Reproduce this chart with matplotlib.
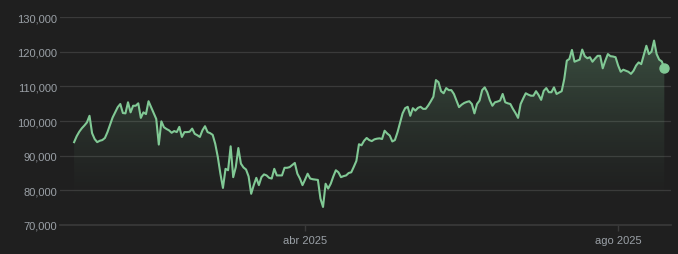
import numpy as np
import pandas as pd
import matplotlib
matplotlib.use("Agg")
import matplotlib.pyplot as plt
import matplotlib.dates as mdates
from matplotlib.colors import to_rgb
from matplotlib.ticker import FuncFormatter

plt.rcParams['font.family'] = ['Liberation Sans', 'DejaVu Sans']

# daily price (thousands), one value per day starting 2025-01-01
jan = [93.9, 95.6, 96.9, 97.9, 98.7, 99.6, 101.5, 96.5, 94.8, 93.9,
       94.3, 94.5, 95.1, 96.8, 98.9, 101.0, 102.5, 104.0, 104.9, 102.3,
       102.2, 105.4, 102.5, 104.4, 104.4, 105.1, 100.9, 102.5, 102.0, 105.7,
       104.0]
feb = [102.3, 100.6, 93.2, 99.9, 98.2, 97.7, 97.3, 96.6, 97.1, 96.8,
       98.3, 95.4, 96.8, 96.8, 96.9, 97.8, 96.3, 95.9, 95.4, 97.3,
       98.5, 96.8, 96.5, 96.0, 93.4, 89.6, 84.8, 80.7]
mar = [86.2, 85.8, 92.7, 83.8, 86.7, 92.2, 87.7, 86.6, 86.0, 84.0,
       79.0, 81.5, 83.6, 81.5, 83.8, 84.6, 84.3, 83.6, 83.4, 86.2,
       84.3, 84.3, 84.3, 86.5, 86.5, 86.7, 87.3, 87.9, 84.8, 83.4,
       81.5]
apr = [83.1, 84.8, 83.4, 83.2, 83.1, 83.0, 77.6, 75.2, 81.9, 80.5,
       81.9, 84.0, 85.8, 85.2, 83.8, 84.1, 84.3, 85.0, 85.2, 86.8,
       88.5, 93.3, 93.0, 94.3, 95.1, 94.5, 94.2, 94.7, 94.9, 95.0]
may = [94.8, 97.2, 96.4, 95.8, 94.1, 94.5, 96.7, 99.5, 102.2, 103.7,
       104.1, 101.5, 103.7, 103.0, 103.8, 104.1, 103.5, 103.5, 104.5, 105.7,
       107.0, 111.8, 111.2, 108.6, 108.0, 109.5, 108.9, 108.9, 107.8, 105.9,
       104.0]
jun = [104.7, 105.2, 105.5, 105.7, 104.9, 102.2, 104.9, 105.9, 108.9, 109.7,
       108.3, 106.0, 104.4, 105.4, 105.6, 105.9, 107.8, 105.4, 105.1, 104.9,
       103.5, 102.3, 100.9, 104.9, 106.5, 108.0, 107.6, 107.3, 107.3, 108.6]
jul = [107.5, 106.1, 108.7, 109.5, 108.3, 108.3, 109.7, 107.8, 108.2, 108.6,
       112.1, 117.4, 117.9, 120.5, 117.1, 117.4, 117.7, 120.6, 118.7, 118.1,
       118.4, 117.1, 118.0, 118.8, 118.8, 115.2, 117.4, 119.3, 118.7, 118.6,
       118.4]
aug = [116.0, 114.2, 114.8, 114.5, 114.2, 113.6, 114.5, 116.0, 116.9, 116.4,
       119.0, 121.7, 119.3, 120.0, 123.2, 119.3, 117.7, 117.2, 115.3]

tick_dates = ["2025-04-01", "2025-08-01"]
tick_labels = ["abr 2025", "ago 2025"]
y_ticks = [70000, 80000, 90000, 100000, 110000, 120000, 130000]

bg = "#1f1f1f"
green = "#81c995"
grid_c = "#3a3a3a"
text_c = "#9aa0a6"

price = np.array(jan + feb + mar + apr + may + jun + jul + aug) * 1000
dates = pd.date_range("2025-01-01", periods=len(price), freq="D")
x = mdates.date2num(dates)

fig = plt.figure(figsize=(6.78, 2.55), dpi=100, facecolor=bg)
ax = fig.add_axes([60/678, 29/255, 611/678, 208/255], facecolor=bg)

# gradient fill under the line
poly = ax.fill_between(x, price, y_ticks[0], facecolor="none", lw=0)
ylev = np.linspace(y_ticks[0], price.max(), 256)
t = np.clip((ylev - 75000) / (price.max() - 75000), 0, 1)
rgba = np.zeros((256, 1, 4))
rgba[..., :3] = to_rgb(green)
rgba[:, 0, 3] = 0.28 * t ** 1.4
im = ax.imshow(rgba, extent=[x[0], x[-1], y_ticks[0], price.max()],
               origin="lower", aspect="auto", zorder=1, interpolation="bilinear")
im.set_clip_path(poly.get_paths()[0], transform=ax.transData)

ax.plot(x, price, color=green, lw=1.5, zorder=3, solid_joinstyle="round")
ax.plot(x[-1], price[-1], "o", ms=6.5, color=green, zorder=4)

ax.set_ylim(y_ticks[0], y_ticks[-1])
ax.set_xlim(x[0] - 5.5, x[0] + 232.6)

ax.set_yticks(y_ticks)
ax.yaxis.set_major_formatter(FuncFormatter(lambda v, p: f"{int(v):,}"))
ax.set_xticks(mdates.date2num(pd.to_datetime(tick_dates)))
ax.set_xticklabels(tick_labels)

ax.grid(axis="y", color=grid_c, lw=0.9)
ax.set_axisbelow(True)
for s in ["top", "right", "left"]:
    ax.spines[s].set_visible(False)
ax.spines["bottom"].set_color(grid_c)
ax.spines["bottom"].set_linewidth(1.2)

ax.tick_params(axis="y", length=0, pad=2, labelsize=8, labelcolor=text_c)
ax.tick_params(axis="x", length=4.5, width=1, color=grid_c, pad=3,
               labelsize=8, labelcolor=text_c)

fig.savefig("out.png", dpi=100, facecolor=bg)
